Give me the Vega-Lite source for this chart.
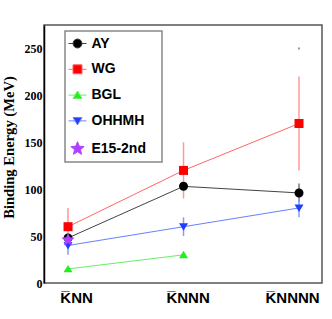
{
  "$schema": "https://vega.github.io/schema/vega-lite/v6.json",
  "width": 278,
  "height": 258,
  "autosize": {"type": "none"},
  "padding": {"left": 44, "top": 25, "right": 10, "bottom": 36},
  "background": "white",
  "config": {
    "view": {"stroke": "#555555", "strokeWidth": 1.5},
    "legend": {
      "orient": "none",
      "legendX": 21,
      "legendY": 6,
      "padding": 5.5,
      "strokeColor": "#888888",
      "fillColor": "white",
      "symbolSize": 81,
      "symbolStrokeWidth": 1,
      "symbolOpacity": 1,
      "labelFont": "Liberation Sans",
      "labelFontSize": 14,
      "labelFontWeight": "bold",
      "labelColor": "black",
      "labelOffset": 7,
      "rowPadding": 11.8,
      "titleOrient": "right",
      "titlePadding": 11,
      "titleFont": "Liberation Sans",
      "titleFontSize": 14
    }
  },
  "datasets": {
    "pts": [
      {"series": "AY", "n": "K\u0305NN", "nucleons": 2, "e": 48},
      {"series": "AY", "n": "K\u0305NNN", "nucleons": 3, "e": 103},
      {"series": "AY", "n": "K\u0305NNNN", "nucleons": 4, "e": 96},
      {"series": "WG", "n": "K\u0305NN", "nucleons": 2, "e": 60},
      {"series": "WG", "n": "K\u0305NNN", "nucleons": 3, "e": 120},
      {"series": "WG", "n": "K\u0305NNNN", "nucleons": 4, "e": 170},
      {"series": "BGL", "n": "K\u0305NN", "nucleons": 2, "e": 15},
      {"series": "BGL", "n": "K\u0305NNN", "nucleons": 3, "e": 30},
      {"series": "OHHMH", "n": "K\u0305NN", "nucleons": 2, "e": 40},
      {"series": "OHHMH", "n": "K\u0305NNN", "nucleons": 3, "e": 60},
      {"series": "OHHMH", "n": "K\u0305NNNN", "nucleons": 4, "e": 80},
      {"series": "E15-2nd", "n": "K\u0305NN", "nucleons": 2, "e": 46}
    ],
    "errs": [
      {"series": "AY", "n": "K\u0305NNNN", "nucleons": 4, "lo": 86, "hi": 106},
      {"series": "AY", "n": "K\u0305NNNN", "nucleons": 4, "lo": 249, "hi": 251},
      {"series": "WG", "n": "K\u0305NN", "nucleons": 2, "lo": 40, "hi": 80},
      {"series": "WG", "n": "K\u0305NNN", "nucleons": 3, "lo": 90, "hi": 150},
      {"series": "WG", "n": "K\u0305NNNN", "nucleons": 4, "lo": 120, "hi": 220},
      {"series": "OHHMH", "n": "K\u0305NN", "nucleons": 2, "lo": 30, "hi": 50},
      {"series": "OHHMH", "n": "K\u0305NNN", "nucleons": 3, "lo": 50, "hi": 70},
      {"series": "OHHMH", "n": "K\u0305NNNN", "nucleons": 4, "lo": 70, "hi": 90}
    ]
  },
  "encoding": {
    "x": {
      "field": "nucleons",
      "type": "quantitative",
      "scale": {"domain": [1.792, 4.199], "nice": false, "zero": false},
      "axis": {
        "title": null,
        "domain": false,
        "ticks": false,
        "grid": false,
        "values": [2.07, 3.035, 3.94],
        "labelExpr": "datum.value < 2.5 ? 'K\u0305NN' : datum.value < 3.5 ? 'K\u0305NNN' : 'K\u0305NNNN'",
        "labelFlush": false,
        "labelOverlap": false,
        "labelAngle": 0,
        "labelFont": "Liberation Sans",
        "labelFontSize": 15,
        "labelFontWeight": "bold",
        "labelColor": "black",
        "labelPadding": 7
      }
    }
  },
  "layer": [
    {
      "data": {"name": "pts"},
      "mark": {"type": "line", "strokeWidth": 1},
      "encoding": {
        "y": {
          "field": "e",
          "type": "quantitative",
          "scale": {"domain": [0, 275], "nice": false, "zero": false},
          "axis": {
            "values": [0, 25, 50, 75, 100, 125, 150, 175, 200, 225, 250],
            "labelExpr": "datum.value % 50 === 0 ? datum.label : ''",
            "labelOverlap": false,
            "tickSize": 0,
            "tickColor": "black",
            "tickWidth": 1,
            "labelPadding": 2,
            "labelFont": "Liberation Serif",
            "labelFontSize": 12,
            "labelFontWeight": "bold",
            "labelColor": "black",
            "grid": false,
            "domainColor": "black",
            "domainWidth": 1.5,
            "title": "Binding Energy (MeV)",
            "titleFont": "Liberation Serif",
            "titleFontSize": 14.6,
            "titleFontWeight": "bold",
            "titleColor": "black",
            "titleX": -28,
            "titleY": 122,
            "encode": {"ticks": {"update": {"x2": {"signal": "datum.value % 50 === 0 ? 7 : 4"}}}}
          }
        },
        "color": {
          "field": "series",
          "type": "nominal",
          "scale": {"domain": ["AY", "WG", "BGL", "OHHMH", "E15-2nd"], "range": ["#444444", "#ff6666", "#66ee66", "#6680ff", "#b040ff"]},
          "legend": null
        }
      }
    },
    {
      "data": {"name": "errs"},
      "mark": {"type": "rule", "strokeWidth": 1.5},
      "encoding": {
        "y": {"field": "lo", "type": "quantitative"},
        "y2": {"field": "hi"},
        "stroke": {
          "field": "series",
          "type": "nominal",
          "scale": {"domain": ["AY", "WG", "BGL", "OHHMH", "E15-2nd"], "range": ["#777777", "#ff9999", "#99ee99", "#8899ff", "#c080ff"]},
          "legend": null
        }
      }
    },
    {
      "data": {"name": "pts"},
      "mark": {"type": "point", "filled": true, "size": 81, "opacity": 1, "strokeWidth": 0},
      "encoding": {
        "y": {"field": "e", "type": "quantitative"},
        "fill": {
          "field": "series",
          "type": "nominal",
          "scale": {"domain": ["AY", "WG", "BGL", "OHHMH", "E15-2nd"], "range": ["#000000", "#ff0000", "#22ee22", "#2040ff", "#b040ff"]},
          "legend": null
        },
        "shape": {
          "field": "series",
          "type": "nominal",
          "scale": {
            "domain": ["AY", "WG", "BGL", "OHHMH", "E15-2nd"],
            "range": [
              "M-1,0A1,1,0,1,1,1,0A1,1,0,1,1,-1,0Z",
              "M-1,-1L1,-1L1,1L-1,1Z",
              "M0,-0.9L1,0.75L-1,0.75Z",
              "M-1,-0.75L1,-0.75L0,0.9Z",
              "M0,-1.55L0.4,-0.55L1.474,-0.479L0.647,0.21L0.911,1.254L0,0.68L-0.911,1.254L-0.647,0.21L-1.474,-0.479L-0.4,-0.55Z"
            ]
          },
          "legend": null
        }
      }
    },
    {
      "data": {"name": "pts"},
      "mark": {"type": "point", "filled": true, "size": 81, "opacity": 0},
      "encoding": {
        "y": {"field": "e", "type": "quantitative"},
        "fill": {
          "field": "series",
          "type": "nominal",
          "scale": {"domain": ["AY", "WG", "BGL", "OHHMH", "E15-2nd"], "range": ["#000000", "#ff0000", "#22ee22", "#2040ff", "#b040ff"]},
          "legend": {"title": "\u00a0\u00a0", "encode": {"legend": {"update": {"strokeWidth": {"value": 1.5}}}}}
        },
        "stroke": {
          "field": "series",
          "type": "nominal",
          "scale": {"domain": ["AY", "WG", "BGL", "OHHMH", "E15-2nd"], "range": ["#444444", "#ff6666", "#66ee66", "#6680ff", "#b040ff"]},
          "legend": {"title": "\u00a0\u00a0", "encode": {"legend": {"update": {"strokeWidth": {"value": 1.5}}}}}
        },
        "shape": {
          "field": "series",
          "type": "nominal",
          "scale": {
            "domain": ["AY", "WG", "BGL", "OHHMH", "E15-2nd"],
            "range": [
              "M-1,0A1,1,0,1,1,1,0A1,1,0,1,1,-1,0ZM-2,0L-1,0M1,0L2,0",
              "M-1,-1L1,-1L1,1L-1,1ZM-2,0L-1,0M1,0L2,0",
              "M0,-0.9L1,0.75L-1,0.75ZM-2,0L-0.5,0M0.5,0L2,0",
              "M-1,-0.75L1,-0.75L0,0.9ZM-2,0L-0.5,0M0.5,0L2,0",
              "M0,-1.55L0.4,-0.55L1.474,-0.479L0.647,0.21L0.911,1.254L0,0.68L-0.911,1.254L-0.647,0.21L-1.474,-0.479L-0.4,-0.55Z"
            ]
          },
          "legend": {"title": "\u00a0\u00a0", "encode": {"legend": {"update": {"strokeWidth": {"value": 1.5}}}}}
        }
      }
    }
  ],
  "resolve": {"scale": {"color": "independent", "fill": "independent", "stroke": "independent", "shape": "independent"}}
}
